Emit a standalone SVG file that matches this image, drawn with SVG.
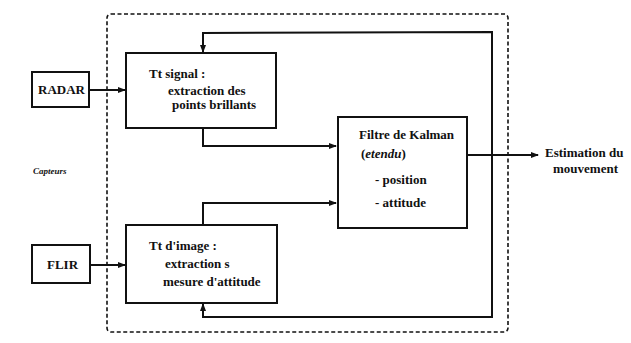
<svg xmlns="http://www.w3.org/2000/svg" width="631" height="343" viewBox="0 0 631 343">
<style>
.box{fill:#fff;stroke:#111;stroke-width:2}
.ln{fill:none;stroke:#111;stroke-width:2}
.dash{fill:none;stroke:#111;stroke-width:1.6;stroke-dasharray:4 2.5}
.t{font-family:'Liberation Serif',serif;font-weight:bold;font-size:13px;fill:#111}
.it{font-style:italic}
.sm{font-size:9px}
</style>
<defs>
<marker id="ah" markerWidth="8" markerHeight="6" refX="7" refY="3" orient="auto" markerUnits="userSpaceOnUse">
<path d="M0,0 L8,3 L0,6 z" fill="#111"/>
</marker>
</defs>
<rect class="dash" x="107" y="14" width="401" height="318" rx="4"/>
<g id="connectors">
<line class="ln" x1="90" y1="90" x2="125" y2="90" marker-end="url(#ah)"/>
<line class="ln" x1="90" y1="265" x2="125" y2="265" marker-end="url(#ah)"/>
<polyline class="ln" points="203,128 203,146 336,146" marker-end="url(#ah)"/>
<polyline class="ln" points="203,225 203,203 336,203" marker-end="url(#ah)"/>
<polyline class="ln" points="492,154 492,32 203,33 203,52" marker-end="url(#ah)"/>
<polyline class="ln" points="492,154 492,317 203,317 203,304" marker-end="url(#ah)"/>
<line class="ln" x1="467" y1="155" x2="538" y2="155" marker-end="url(#ah)"/>
</g>
<g id="radar">
<rect class="box" x="32" y="72" width="57" height="35"/>
<text class="t" x="38" y="94">RADAR</text>
</g>
<g id="flir">
<rect class="box" x="32" y="245" width="58" height="38"/>
<text class="t" x="47" y="269">FLIR</text>
</g>
<g id="tt-signal">
<rect class="box" x="126" y="53" width="150" height="75"/>
<text class="t" x="149" y="78">Tt signal :</text>
<text class="t" x="168" y="95">extraction des</text>
<text class="t" x="172" y="109">points brillants</text>
</g>
<g id="tt-image">
<rect class="box" x="126" y="225" width="151" height="78"/>
<text class="t" x="149" y="250">Tt d'image :</text>
<text class="t" x="165" y="268">extraction s</text>
<text class="t" x="163" y="286">mesure d'attitude</text>
</g>
<g id="kalman">
<rect class="box" x="338" y="117" width="129" height="111"/>
<text class="t" x="359" y="139">Filtre de Kalman</text>
<text class="t" x="361" y="158">(<tspan class="it">etendu</tspan>)</text>
<text class="t" x="375" y="184">- position</text>
<text class="t" x="375" y="207">- attitude</text>
</g>
<g id="labels">
<text class="t it sm" x="33" y="174">Capteurs</text>
<text class="t" x="545" y="157">Estimation du</text>
<text class="t" x="553" y="173">mouvement</text>
</g>
</svg>
